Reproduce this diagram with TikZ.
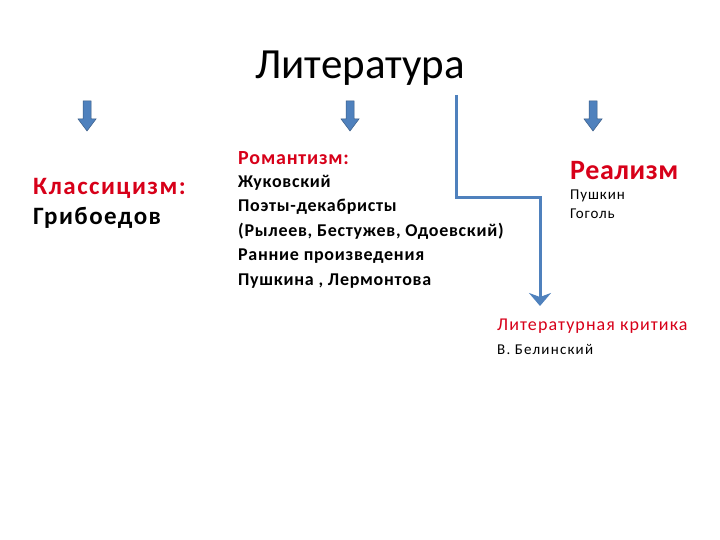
\documentclass[tikz,border=0pt]{standalone}
\usepackage{fontspec}
\setmainfont{Carlito}
\usetikzlibrary{arrows.meta}
\definecolor{myblue}{RGB}{79,129,189}
\definecolor{myred}{RGB}{215,0,25}
\tikzset{
  txt/.style={anchor=west,inner sep=0pt,align=left}
}
\newcommand{\blockarrow}[2]{\filldraw[fill=myblue,draw=myblue!70!black,line width=0.5pt] (#1-4,#2) -- (#1+4,#2) -- (#1+4,#2+18) -- (#1+9,#2+18) -- (#1,#2+30) -- (#1-9,#2+18) -- (#1-4,#2+18) -- cycle;}
\begin{document}
\begin{tikzpicture}[x=1pt,y=-1pt]
\useasboundingbox (0,0) rectangle (720,540);
\node[inner sep=0pt,font=\fontsize{43}{46}\selectfont] (title) at (360,68) {Литература};
\blockarrow{87}{101}
\blockarrow{350}{101}
\blockarrow{593}{101}
\node[txt,font=\fontsize{25}{30}\selectfont\bfseries\addfontfeature{LetterSpace=6}] (klass) at (33,203) {\textcolor{myred}{Классицизм:}\\Грибоедов};
\node[txt,font=\fontsize{20}{22}\selectfont\bfseries\addfontfeature{LetterSpace=4},text=myred] (rom) at (238,158) {Романтизм:};
\node[txt,font=\fontsize{18}{24.5}\selectfont\bfseries\addfontfeature{LetterSpace=4},anchor=north west] (romlist) at (238,175) {Жуковский\\Поэты-декабристы\\(Рылеев, Бестужев, Одоевский)\\Ранние произведения\\ Пушкина , Лермонтова};
\node[txt,font=\fontsize{28}{30}\selectfont\bfseries\addfontfeature{LetterSpace=2},text=myred] (real) at (570,171) {Реализм};
\node[txt,font=\fontsize{15}{19}\selectfont\addfontfeature{LetterSpace=6},anchor=north west] (reallist) at (570,190) {Пушкин\\Гоголь};
\node[txt,font=\fontsize{18}{20}\selectfont\addfontfeature{LetterSpace=6},text=myred] (krit) at (497,326) {Литературная критика};
\node[txt,font=\fontsize{15}{16}\selectfont\addfontfeature{LetterSpace=8}] (bel) at (497,349) {В. Белинский};
\coordinate (s) at (456,95);
\coordinate (e) at (540,306);
\draw[draw=myblue,line width=3pt,-{Stealth[width=22pt,length=13pt,inset=4pt,fill=myblue]}] (s) |- (498,198) -| (e);
\end{tikzpicture}
\end{document}
